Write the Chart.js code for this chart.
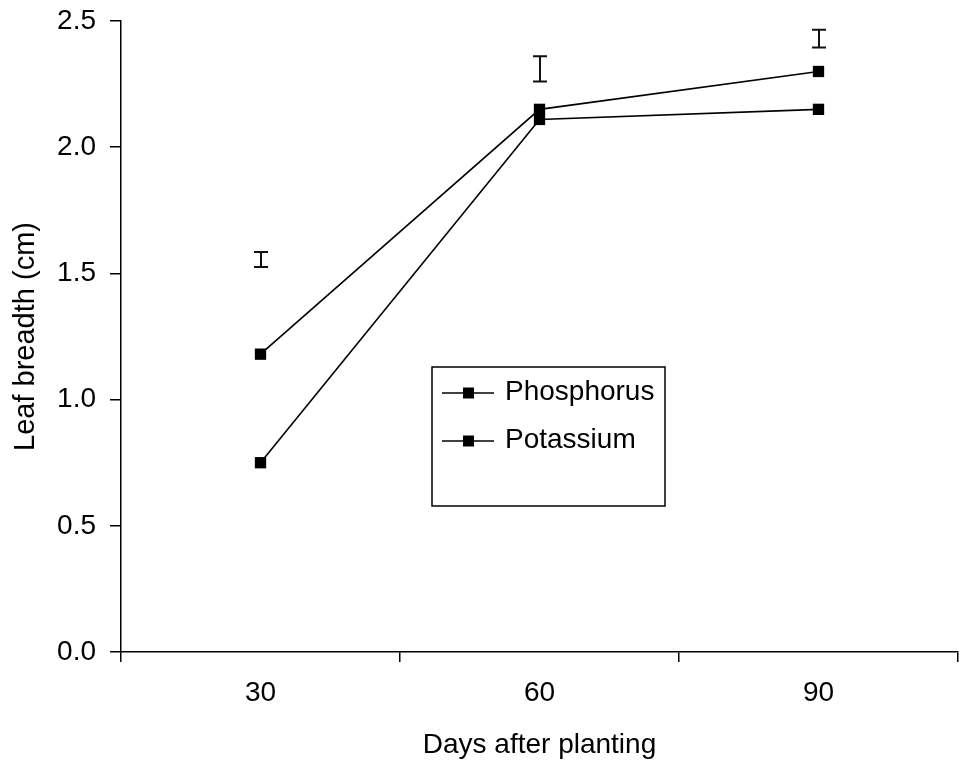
<!DOCTYPE html>
<html>
<head>
<meta charset="utf-8">
<script src="https://cdn.jsdelivr.net/npm/chart.js@4.4.0/dist/chart.umd.min.js"></script>
<style>
  html, body { margin: 0; padding: 0; background: #fff; }
  #wrap { width: 962px; height: 762px; }
</style>
</head>
<body>
<div id="wrap"><canvas id="leafChart" width="962" height="762"></canvas></div>
<script>
const days = ["30", "60", "90"];
const phosphorus = [1.18, 2.15, 2.30];
const potassium = [0.75, 2.11, 2.15];
// LSD bars: lower and upper ends at each date
const lsdLow = [1.525, 2.26, 2.395];
const lsdHigh = [1.585, 2.36, 2.465];
const yTicks = [0, 0.5, 1.0, 1.5, 2.0, 2.5];

const FONT = "'Liberation Sans', Arial, sans-serif";
Chart.defaults.font.family = FONT;
Chart.defaults.color = "#000";

// vertical I-bars above the lines
const lsdBars = {
  id: "lsdBars",
  afterDatasetsDraw(chart) {
    const { ctx, scales: { x, y } } = chart;
    ctx.save();
    ctx.strokeStyle = "#111";
    ctx.lineWidth = 2;
    days.forEach((d, i) => {
      const px = Math.round(x.getPixelForValue(i));
      const top = y.getPixelForValue(lsdHigh[i]);
      const bot = y.getPixelForValue(lsdLow[i]);
      ctx.beginPath();
      ctx.moveTo(px, top); ctx.lineTo(px, bot);
      ctx.moveTo(px - 7, top); ctx.lineTo(px + 7, top);
      ctx.moveTo(px - 7, bot); ctx.lineTo(px + 7, bot);
      ctx.stroke();
    });
    ctx.restore();
  }
};

// boxed legend sitting inside the plot
const boxLegend = {
  id: "boxLegend",
  afterDraw(chart) {
    const ctx = chart.ctx;
    const bx = 432, by = 367, bw = 233, bh = 139;
    ctx.save();
    ctx.strokeStyle = "#000";
    ctx.lineWidth = 1.5;
    ctx.strokeRect(bx, by, bw, bh);
    ctx.font = "28px " + FONT;
    ctx.fillStyle = "#000";
    ctx.textBaseline = "alphabetic";
    chart.data.datasets.forEach((ds, i) => {
      const ly = 393 + i * 48;
      ctx.beginPath();
      ctx.moveTo(442, ly); ctx.lineTo(494, ly);
      ctx.lineWidth = 1.5;
      ctx.stroke();
      ctx.fillRect(463, ly - 5.5, 11, 11);
      ctx.fillText(ds.label, 505, ly + 7);
    });
    ctx.restore();
  }
};

new Chart(document.getElementById("leafChart"), {
  type: "line",
  data: {
    labels: days,
    datasets: [
      {
        label: "Phosphorus",
        data: phosphorus,
        borderColor: "#000",
        backgroundColor: "#000",
        borderWidth: 1.6,
        pointStyle: "rect",
        pointRadius: 8,
        pointBorderWidth: 0,
        tension: 0
      },
      {
        label: "Potassium",
        data: potassium,
        borderColor: "#000",
        backgroundColor: "#000",
        borderWidth: 1.6,
        pointStyle: "rect",
        pointRadius: 8,
        pointBorderWidth: 0,
        tension: 0
      }
    ]
  },
  options: {
    responsive: false,
    animation: false,
    devicePixelRatio: 1,
    layout: { autoPadding: false, padding: { left: 9, top: 21, right: 4, bottom: 0 } },
    plugins: {
      legend: { display: false },
      tooltip: { enabled: false }
    },
    scales: {
      x: {
        offset: true,
        grid: { offset: true, drawOnChartArea: false, tickLength: 10, color: "#000", lineWidth: 1.5 },
        border: { display: true, color: "#000", width: 1.5 },
        ticks: { padding: 14, font: { size: 28 }, color: "#000" },
        title: { display: true, text: "Days after planting", font: { size: 28 }, color: "#000", padding: 0 },
        afterFit: s => { s.height = 110; s.paddingLeft = 0; s.paddingRight = 0; }
      },
      y: {
        min: 0,
        max: 2.5,
        afterBuildTicks: s => { s.ticks = yTicks.map(v => ({ value: v })); },
        grid: { drawOnChartArea: false, tickLength: 11, color: "#000", lineWidth: 1.5 },
        border: { display: true, color: "#000", width: 1.5 },
        ticks: { padding: 14, font: { size: 28 }, color: "#000", callback: v => v.toFixed(1) },
        title: { display: true, text: "Leaf breadth (cm)", font: { size: 29 }, color: "#000", padding: 0 },
        afterFit: s => { s.width = 112; s.paddingTop = 0; s.paddingBottom = 0; }
      }
    }
  },
  plugins: [lsdBars, boxLegend]
});
</script>
</body>
</html>
